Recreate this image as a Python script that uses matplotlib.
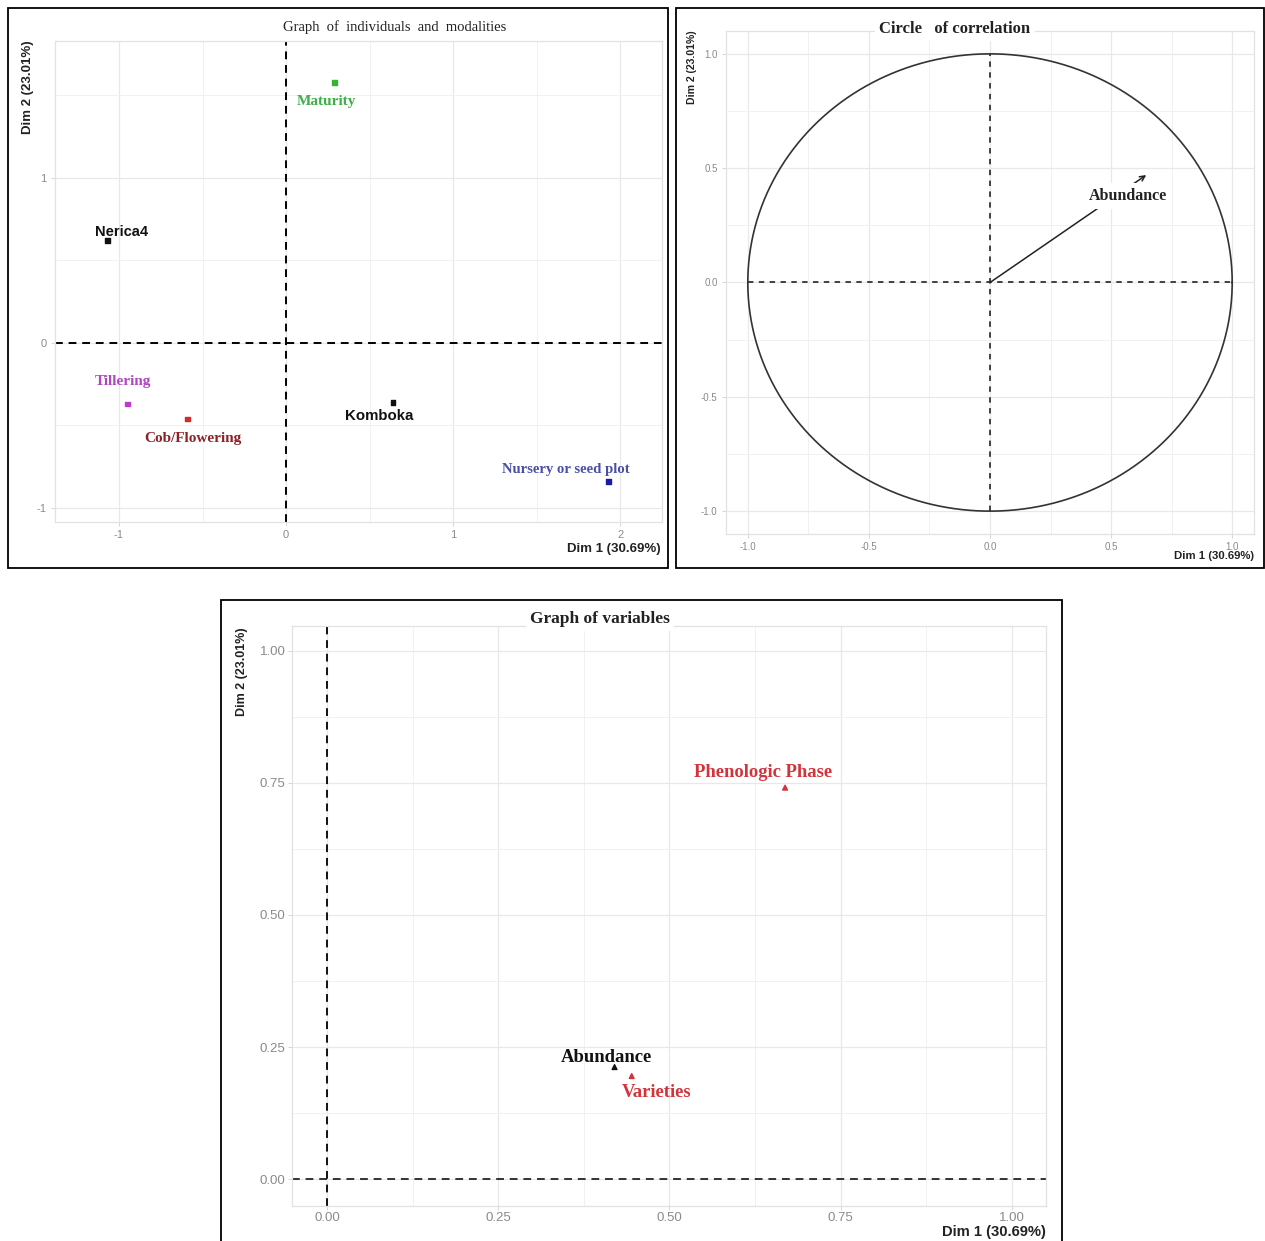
import matplotlib
matplotlib.use("Agg")
import matplotlib.pyplot as plt
from matplotlib.patches import Rectangle
import numpy as np

# ---- data -------------------------------------------------------------
ind_names = ["Maturity", "Nerica4", "Tillering", "Cob/Flowering", "Komboka", "Nursery or seed plot"]
ind_dim1 = [0.29, -1.07, -0.95, -0.59, 0.64, 1.93]
ind_dim2 = [1.58, 0.62, -0.37, -0.46, -0.36, -0.84]
ind_point_colors = ["#2fb52f", "#111111", "#c03cc8", "#d42a2a", "#111111", "#1a1aa8"]
ind_label_colors = ["#3fae4a", "#111111", "#b046c0", "#8e2028", "#111111", "#4a4fa8"]

cor_names = ["Abundance"]
cor_dim1 = [0.645]
cor_dim2 = [0.47]

var_names = ["Phenologic Phase", "Abundance", "Varieties"]
var_dim1 = [0.669, 0.42, 0.445]
var_dim2 = [0.741, 0.212, 0.195]
var_colors = ["#d2343c", "#111111", "#d2343c"]

dim1_label = "Dim 1 (30.69%)"
dim2_label = "Dim 2 (23.01%)"

# ---- layout helpers ---------------------------------------------------
W, H = 1265, 1241
fig = plt.figure(figsize=(W / 100, H / 100), dpi=100)
fig.patch.set_facecolor("white")

SERIF = ["Liberation Serif", "DejaVu Serif"]
SANS = ["Liberation Sans", "DejaVu Sans"]
TICK_COLOR = "#8a8a8a"


def px_axes(x0, y0, x1, y1):
    return fig.add_axes([x0 / W, 1 - y1 / H, (x1 - x0) / W, (y1 - y0) / H])


def px_box(x0, y0, x1, y1):
    fig.patches.append(Rectangle((x0 / W, 1 - y1 / H), (x1 - x0) / W, (y1 - y0) / H,
                                 transform=fig.transFigure, fill=False,
                                 edgecolor="black", linewidth=1.3, zorder=10))


def style(ax, xticks, yticks, xminor, yminor, xfmt, yfmt, tsize, pad=3):
    ax.set_facecolor("white")
    ax.set_xticks(xticks)
    ax.set_yticks(yticks)
    ax.set_xticks(xminor, minor=True)
    ax.set_yticks(yminor, minor=True)
    ax.set_xticklabels([xfmt(v) for v in xticks], fontfamily=SANS)
    ax.set_yticklabels([yfmt(v) for v in yticks], fontfamily=SANS)
    ax.tick_params(which="major", colors="#cfcfcf", labelcolor=TICK_COLOR,
                   labelsize=tsize, length=3, width=0.6, pad=pad)
    ax.tick_params(which="minor", length=0)
    ax.grid(which="major", color="#e8e8e8", linewidth=0.9)
    ax.grid(which="minor", color="#f1f1f1", linewidth=0.7)
    ax.set_axisbelow(True)
    for s in ax.spines.values():
        s.set_color("#e2e2e2")
        s.set_linewidth(0.9)


# ---- panel 1: individuals and modalities ------------------------------
px_box(8, 8, 668, 568)
ax1 = px_axes(55, 41, 662, 522)
ax1.set_xlim(-1.383, 2.25)
ax1.set_ylim(-1.085, 1.83)
style(ax1, [-1, 0, 1, 2], [-1, 0, 1], [-0.5, 0.5, 1.5], [-0.5, 0.5, 1.5],
      lambda v: f"{v:g}", lambda v: f"{v:g}", 8)
ax1.axhline(0, color="black", linestyle=(0, (4, 3)), linewidth=1.4)
ax1.axvline(0, color="black", linestyle=(0, (4, 3)), linewidth=1.4)
ax1.scatter(ind_dim1, ind_dim2, marker="s", s=11, c=ind_point_colors, zorder=3)

# label placement (offsets in points)
label_spec = {
    "Maturity": ((-6, -14), SERIF, 11),
    "Nerica4": ((10, 6), SANS, 10.5),
    "Tillering": ((-3, 16), SERIF, 11),
    "Cob/Flowering": ((4, -14), SERIF, 11),
    "Komboka": ((-10, -10), SANS, 10.8),
    "Nursery or seed plot": ((-31, 9), SERIF, 10.6),
}
for name, x, y, col in zip(ind_names, ind_dim1, ind_dim2, ind_label_colors):
    off, fam, fs = label_spec[name]
    ax1.annotate(name, (x, y), xytext=off, textcoords="offset points",
                 ha="center", va="center", color=col, fontfamily=fam,
                 fontweight="bold", fontsize=fs)

fig.text(395 / W, 1 - 27 / H, "Graph  of  individuals  and  modalities",
         ha="center", va="center", fontfamily=SERIF, fontsize=10.5, color="#222222")
fig.text(28 / W, 1 - 40 / H, dim2_label, rotation=90, ha="center", va="top",
         fontfamily=SANS, fontweight="bold", fontsize=9.5, color="#222222")
fig.text(661 / W, 1 - 549 / H, dim1_label, ha="right", va="center",
         fontfamily=SANS, fontweight="bold", fontsize=9.5, color="#222222")

# ---- panel 2: correlation circle --------------------------------------
px_box(676, 8, 1264, 568)
ax2 = px_axes(726, 31, 1254, 534)
ax2.set_xlim(-1.09, 1.09)
ax2.set_ylim(-1.10, 1.10)
style(ax2, [-1.0, -0.5, 0.0, 0.5, 1.0], [-1.0, -0.5, 0.0, 0.5, 1.0],
      [-0.75, -0.25, 0.25, 0.75], [-0.75, -0.25, 0.25, 0.75],
      lambda v: f"{v:.1f}", lambda v: f"{v:.1f}", 7)
theta = np.linspace(0, 2 * np.pi, 400)
ax2.plot(np.cos(theta), np.sin(theta), color="#333333", linewidth=1.2)
ax2.plot([-1, 1], [0, 0], color="#333333", linestyle=(0, (3, 3)), linewidth=1.3)
ax2.plot([0, 0], [-1, 1], color="#333333", linestyle=(0, (3, 3)), linewidth=1.3)
for name, x, y in zip(cor_names, cor_dim1, cor_dim2):
    ax2.annotate("", xy=(x, y), xytext=(0, 0),
                 arrowprops=dict(arrowstyle="->", color="#222222", lw=1.1,
                                 mutation_scale=9, shrinkA=0, shrinkB=0))
    ax2.text(x - 0.075, y - 0.092, name, ha="center", va="center",
             fontfamily=SERIF, fontweight="bold", fontsize=11.5, color="#222222",
             bbox=dict(facecolor="white", edgecolor="none", pad=3.5), zorder=4)

fig.text(955 / W, 1 - 29 / H, "Circle   of correlation", ha="center", va="center",
         fontfamily=SERIF, fontweight="bold", fontsize=12, color="#222222",
         bbox=dict(facecolor="white", edgecolor="none", pad=3))
fig.text(692 / W, 1 - 30 / H, dim2_label, rotation=90, ha="center", va="top",
         fontfamily=SANS, fontweight="bold", fontsize=7.6, color="#222222")
fig.text(1254 / W, 1 - 556 / H, dim1_label, ha="right", va="center",
         fontfamily=SANS, fontweight="bold", fontsize=8.2, color="#222222")

# ---- panel 3: variables -----------------------------------------------
px_box(221, 600, 1062, 1246)
ax3 = px_axes(292, 626, 1046, 1206)
ax3.set_xlim(-0.051, 1.05)
ax3.set_ylim(-0.051, 1.047)
style(ax3, [0, 0.25, 0.5, 0.75, 1.0], [0, 0.25, 0.5, 0.75, 1.0],
      [0.125, 0.375, 0.625, 0.875], [0.125, 0.375, 0.625, 0.875],
      lambda v: f"{v:.2f}", lambda v: f"{v:.2f}", 9.5, pad=1.5)
ax3.axhline(0, color="#333333", linestyle=(0, (4, 3)), linewidth=1.4)
ax3.axvline(0, color="#111111", linestyle=(0, (4, 3)), linewidth=1.4)
ax3.scatter(var_dim1, var_dim2, marker="^", s=12, c=var_colors, zorder=3)
var_offsets = {"Phenologic Phase": (-16, 11), "Abundance": (-6, 7), "Varieties": (18, -12)}
for name, x, y, col in zip(var_names, var_dim1, var_dim2, var_colors):
    ax3.annotate(name, (x, y), xytext=var_offsets[name], textcoords="offset points",
                 ha="center", va="center", color=col, fontfamily=SERIF,
                 fontweight="bold", fontsize=13.4)

fig.text(600 / W, 1 - 619 / H, "Graph of variables", ha="center", va="center",
         fontfamily=SERIF, fontweight="bold", fontsize=12.5, color="#222222",
         bbox=dict(facecolor="white", edgecolor="none", pad=3))
fig.text(242 / W, 1 - 627 / H, dim2_label, rotation=90, ha="center", va="top",
         fontfamily=SANS, fontweight="bold", fontsize=9, color="#222222")
fig.text(1046 / W, 1 - 1232 / H, dim1_label, ha="right", va="center",
         fontfamily=SANS, fontweight="bold", fontsize=10.6, color="#222222")

fig.savefig("out.png", dpi=100, facecolor="white")
